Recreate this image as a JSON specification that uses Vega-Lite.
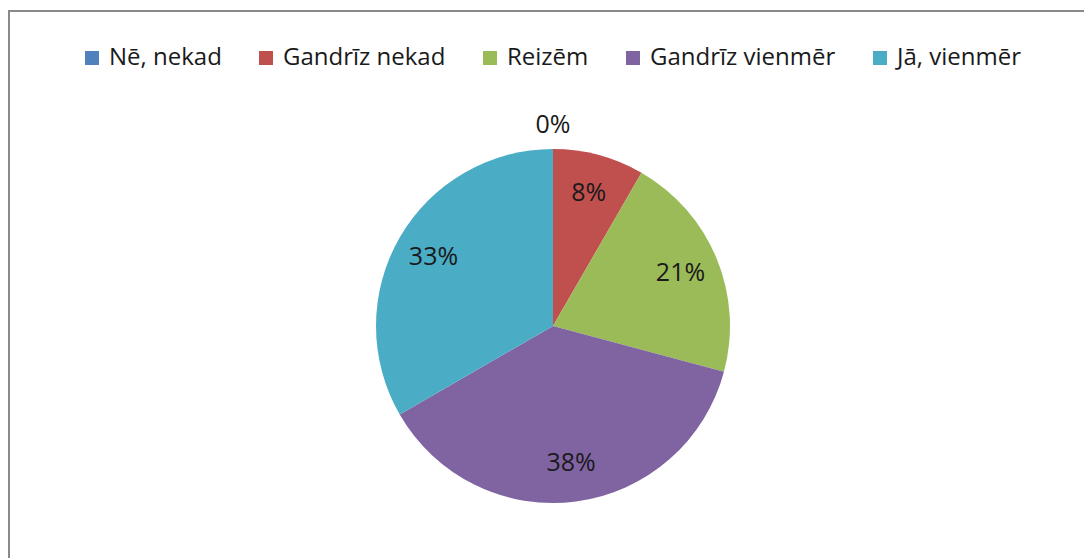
{
  "$schema": "https://vega.github.io/schema/vega-lite/v6.json",
  "width": 1088,
  "height": 630,
  "autosize": {"type": "none"},
  "padding": {"left": 9, "top": 11, "right": 0, "bottom": 0},
  "background": "white",
  "view": {"stroke": "#898989", "strokeWidth": 2, "fill": "white"},
  "config": {
    "font": "Open Sans"
  },
  "data": {
    "values": [
      {"idx": 1, "answer": "Nē, nekad", "count": 0},
      {"idx": 2, "answer": "Gandrīz nekad", "count": 2},
      {"idx": 3, "answer": "Reizēm", "count": 5},
      {"idx": 4, "answer": "Gandrīz vienmēr", "count": 9},
      {"idx": 5, "answer": "Jā, vienmēr", "count": 8}
    ]
  },
  "transform": [
    {"joinaggregate": [{"op": "sum", "field": "count", "as": "total"}]},
    {"calculate": "datum.count / datum.total", "as": "share"}
  ],
  "encoding": {
    "theta": {"field": "count", "type": "quantitative", "stack": true},
    "order": {"field": "idx", "type": "quantitative"}
  },
  "layer": [
    {
      "mark": {"type": "arc", "outerRadius": 177},
      "encoding": {
        "color": {
          "field": "answer",
          "type": "nominal",
          "sort": ["Nē, nekad", "Gandrīz nekad", "Reizēm", "Gandrīz vienmēr", "Jā, vienmēr"],
          "scale": {
            "domain": ["Nē, nekad", "Gandrīz nekad", "Reizēm", "Gandrīz vienmēr", "Jā, vienmēr"],
            "range": ["#4F81BD", "#C0504D", "#9BBB59", "#8064A2", "#4BACC6"]
          },
          "legend": {
            "orient": "none",
            "legendX": 71,
            "legendY": 35,
            "direction": "horizontal",
            "title": null,
            "symbolType": "square",
            "symbolSize": 196,
            "symbolStrokeWidth": 0,
            "symbolOpacity": 1,
            "labelFontSize": 24,
            "labelFont": "Open Sans",
            "labelColor": "#1a1a1a",
            "labelOffset": 5,
            "labelLimit": 0,
            "columnPadding": 32
          }
        }
      }
    },
    {
      "transform": [{"filter": "datum.count > 0"}],
      "mark": {"type": "text", "radius": 138, "fontSize": 25, "font": "Open Sans", "color": "#1a1a1a"},
      "encoding": {"text": {"field": "share", "type": "quantitative", "format": ".0%"}}
    },
    {
      "transform": [{"filter": "datum.count == 0"}],
      "mark": {"type": "text", "radius": 201, "fontSize": 25, "font": "Open Sans", "color": "#1a1a1a"},
      "encoding": {"text": {"field": "share", "type": "quantitative", "format": ".0%"}}
    }
  ]
}
